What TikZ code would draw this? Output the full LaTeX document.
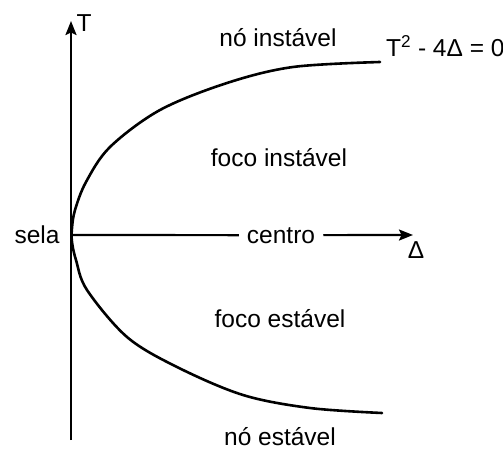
\documentclass[tikz,border=0pt]{standalone}
\usepackage{fontspec}
\setmainfont{Liberation Sans}
\usetikzlibrary{arrows.meta}
\tikzset{
	lbl/.style={font=\fontsize{24.5}{29}\selectfont, inner sep=0pt, anchor=base}
}
\tikzset{
	axis/.style={line width=2.2pt, -{Stealth[length=14pt, width=11pt, inset=2.5pt]}}
}
\begin{document}
\begin{tikzpicture}[x=1pt, y=-1pt]
      \useasboundingbox (0,0) rectangle (503,449);
      % eixos
      \coordinate (tbot) at (71,440);
      \coordinate (ttop) at (71,21);
      \coordinate (orig) at (71,235);
      \coordinate (dend) at (413,235);
      \draw[axis] (tbot) -- (ttop);
      \node[lbl] (tlab) at (84,32) {T};
      \node[lbl, inner xsep=8pt, inner ysep=4pt] (centro) at (281,243) {centro};
      \draw[line width=2.2pt] (orig) -- (centro);
      \draw[axis] (centro) -- (dend);
      \node[lbl] (dlab) at (416,258) {Δ};
      % parabola
      \draw[line width=2.6pt, line cap=round] plot[smooth, tension=0.55] coordinates {
        (380,62) (293,67) (227,83) (160,110) (110,147) (86,182) (75,210) (72,228)
        (72,242) (76,260) (87,290) (127,337) (177,367) (243,395) (310,408) (382,413)};
      \node[lbl, anchor=base west] (curva) at (386,57) {T\textsuperscript{2} - 4Δ = 0};
      % regioes
      \node[lbl] (noinst) at (278,47) {nó instável};
      \node[lbl] (focoinst) at (279,167) {foco instável};
      \node[lbl] (sela) at (37,243) {sela};
      \node[lbl] (focoest) at (280,327) {foco estável};
      \node[lbl] (noest) at (280,445) {nó estável};
    \end{tikzpicture}
\end{document}
